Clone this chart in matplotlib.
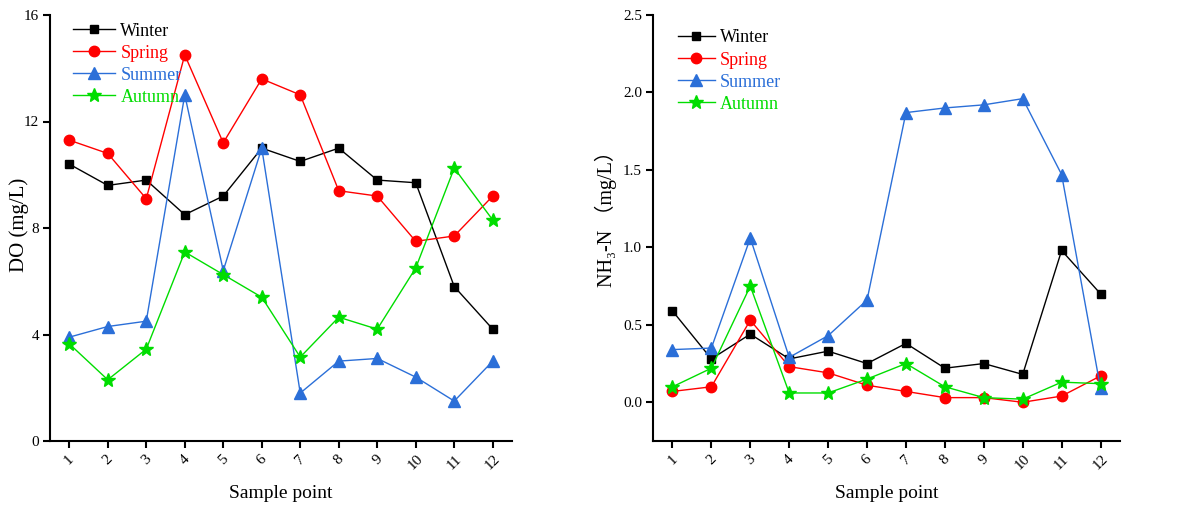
import matplotlib
matplotlib.use("Agg")
import matplotlib.pyplot as plt

plt.rcParams['font.family'] = ['Liberation Serif', 'DejaVu Serif', 'Noto Sans CJK SC']

points = list(range(1, 13))
tick_labels = [str(p) for p in points]
seasons = ["Winter", "Spring", "Summer", "Autumn"]

do_winter = [10.4, 9.6, 9.8, 8.5, 9.2, 11.0, 10.5, 11.0, 9.8, 9.7, 5.8, 4.2]
do_spring = [11.3, 10.8, 9.1, 14.5, 11.2, 13.6, 13.0, 9.4, 9.2, 7.5, 7.7, 9.2]
do_summer = [3.9, 4.3, 4.5, 13.0, 6.4, 11.0, 1.8, 3.0, 3.1, 2.4, 1.5, 3.0]
do_autumn = [3.65, 2.3, 3.45, 7.1, 6.25, 5.4, 3.15, 4.65, 4.2, 6.5, 10.25, 8.3]

nh_winter = [0.59, 0.28, 0.44, 0.28, 0.33, 0.25, 0.38, 0.22, 0.25, 0.18, 0.98, 0.70]
nh_spring = [0.07, 0.10, 0.53, 0.23, 0.19, 0.11, 0.07, 0.03, 0.03, 0.00, 0.04, 0.17]
nh_summer = [0.34, 0.35, 1.06, 0.29, 0.43, 0.66, 1.87, 1.90, 1.92, 1.96, 1.47, 0.09]
nh_autumn = [0.10, 0.22, 0.75, 0.06, 0.06, 0.15, 0.25, 0.10, 0.03, 0.02, 0.13, 0.12]

colors = ["#000000", "#ff0000", "#2b6fd8", "#00dd00"]
markers = ["s", "o", "^", "*"]
msizes = [6, 7.5, 9, 10]

fig = plt.figure(figsize=(11.92, 5.07), dpi=100)
ax1 = fig.add_axes([50/1192, 1-441/507, (512-50)/1192, (441-15)/507])
ax2 = fig.add_axes([653/1192, 1-441/507, (1120-653)/1192, (441-15)/507])


def draw(ax, series, ylim, yticks, yticklabels, ylabel, ylabel_size, ylabel_x, ylabel_y,
         legend_anchor, handlelength):
    for name, vals, c, m, ms in zip(seasons, series, colors, markers, msizes):
        ax.plot(points, vals, color=c, marker=m, markersize=ms, linewidth=1.0,
                markeredgecolor=c, label=name)
    ax.set_xlim(0.5, 12.5)
    ax.set_ylim(*ylim)
    ax.set_yticks(yticks)
    ax.set_yticklabels(yticklabels, fontsize=11)
    ax.set_xticks(points)
    ax.set_xticklabels(tick_labels, rotation=45, fontsize=11, ha='center', va='top')
    for s in ['top', 'right']:
        ax.spines[s].set_visible(False)
    for s in ['left', 'bottom']:
        ax.spines[s].set_linewidth(1.5)
    ax.tick_params(direction='out', length=5, width=1.5, pad=3)
    ax.set_xlabel("Sample point", fontsize=14)
    ax.xaxis.set_label_coords(0.5, -0.103)
    ax.set_ylabel(ylabel, fontsize=ylabel_size)
    ax.yaxis.set_label_coords(ylabel_x, ylabel_y)
    leg = ax.legend(loc='upper left', bbox_to_anchor=legend_anchor, frameon=False,
                    fontsize=13, handlelength=handlelength, handletextpad=0.3,
                    labelspacing=0.28, borderaxespad=0)
    for t, c in zip(leg.get_texts(), colors):
        t.set_color(c)


draw(ax1, [do_winter, do_spring, do_summer, do_autumn], (0, 16), [0, 4, 8, 12, 16],
     ["0", "4", "8", "12", "16"], "DO (mg/L)", 15, -0.045, 0.507, (0.035, 0.999), 2.3)
draw(ax2, [nh_winter, nh_spring, nh_summer, nh_autumn], (-0.25, 2.5),
     [0.0, 0.5, 1.0, 1.5, 2.0, 2.5], ["0.0", "0.5", "1.0", "1.5", "2.0", "2.5"],
     "NH\u2083-N \uff08mg/L\uff09", 14.5, -0.078, 0.534, (0.039, 0.983), 2.0)

fig.savefig("out.png", dpi=100)
